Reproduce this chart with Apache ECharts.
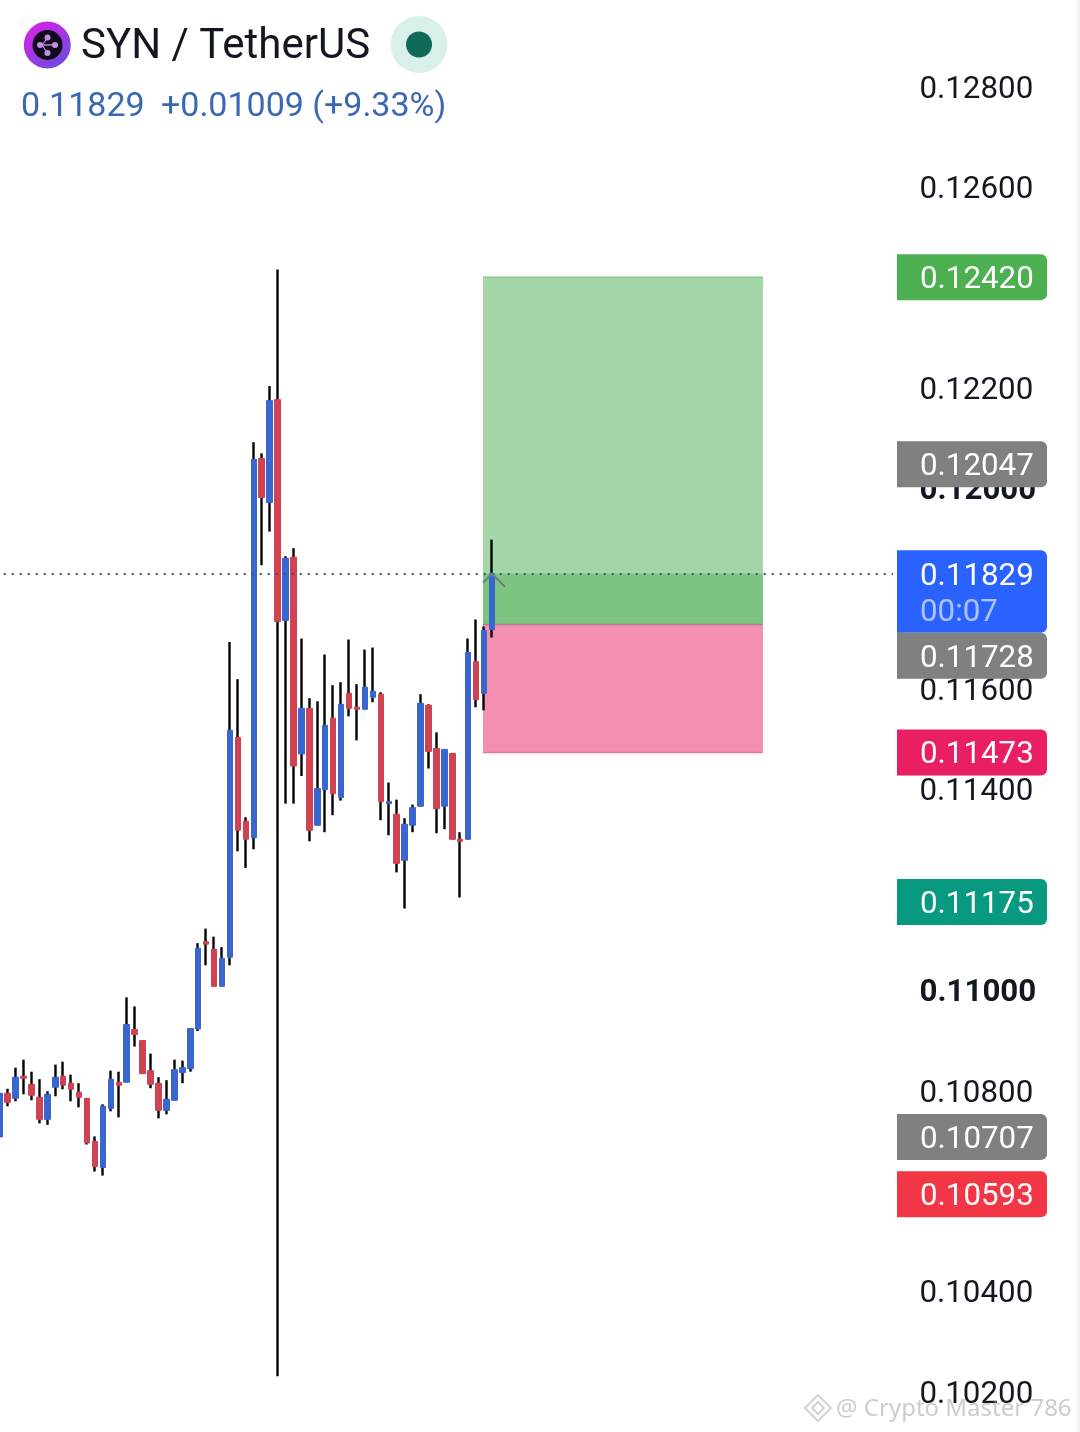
<!DOCTYPE html>
<html>
<head>
<meta charset="utf-8">
<style>html,body{margin:0;padding:0;background:#fff}#c{width:1080px;height:1432px}</style>
<script src="https://cdn.jsdelivr.net/npm/echarts@6/dist/echarts.min.js"></script>
</head>
<body>
<div id="c"></div>
<script>
const opens = [
 .10707,.10794,.10784,.10828,.10812,.10786,.10742,.10806,.10828,.10814,
 .10796,.10784,.10698,.10646,.10764,.10816,.10816,.10921,.10899,.10839,
 .10814,.10760,.10780,.10835,.10843,.10922,.11096,.11081,.11007,.11065,
 .11503,.11336,.11303,.12059,.11971,.12176,.11736,.11862,.11470,.11561,
 .11328,.11399,.11541,.11383,.11591,.11563,.11559,.11583,.11589,.11371,
 .11350,.11258,.11328,.11366,.11567,.11481,.11366,.11471,.11300,.11300,
 .11654,.11591,.11718];
const closes = [
 .10794,.10776,.10826,.10824,.10790,.10742,.10792,.10826,.10810,.10802,
 .10786,.10695,.10648,.10768,.10822,.10810,.10931,.10911,.10833,.10812,
 .10760,.10782,.10841,.10845,.10923,.11083,.11091,.11007,.11063,.11517,
 .11318,.11300,.12057,.11981,.12174,.11734,.11860,.11446,.11561,.11318,
 .11401,.11527,.11391,.11569,.11561,.11559,.11603,.11595,.11375,.11375,
 .11252,.11330,.11363,.11571,.11475,.11361,.11479,.11300,.11296,.11672,
 .11578,.11716,.11829];
const lows = [
 .10707,.10768,.10778,.10792,.10780,.10734,.10731,.10788,.10802,.10778,
 .10766,.10692,.10638,.10630,.10758,.10746,.10816,.10887,.10833,.10804,
 .10744,.10752,.10780,.10814,.10837,.10918,.11049,.11007,.11007,.11049,
 .11276,.11243,.11280,.11846,.11913,.10230,.11371,.11371,.11426,.11296,
 .11328,.11314,.11348,.11377,.11545,.11497,.11559,.11573,.11338,.11308,
 .11234,.11162,.11314,.11365,.11441,.11312,.11320,.11300,.11184,.11300,
 .11563,.11557,.11702];
const highs = [
 .10794,.10803,.10845,.10861,.10837,.10822,.10798,.10851,.10857,.10831,
 .10814,.10784,.10708,.10772,.10839,.10837,.10985,.10967,.10899,.10873,
 .10826,.10820,.10861,.10859,.10923,.11093,.11122,.11106,.11085,.11693,
 .11619,.11344,.12091,.12069,.12203,.12435,.11864,.11880,.11700,.11581,
 .11575,.11668,.11607,.11613,.11698,.11609,.11678,.11682,.11593,.11413,
 .11379,.11342,.11369,.11589,.11569,.11513,.11479,.11471,.11314,.11700,
 .11738,.11724,.11897];

const lastPrice = 0.11829;
const takeProfit = 0.1242;
const entryPrice = 0.11728;
const stopLoss = 0.11473;
const countdown = '00:07';
const boldTicks = ['0.11000', '0.12000'];
const hiddenTicks = ['0.11200'];

const tagValues = [0.1242, 0.12047, 0.11829, 0.11728, 0.11473, 0.11175, 0.10707, 0.10593];
const tagColors = ['#4caf50', '#808080', '#2962ff', '#808080', '#e91e63', '#089981', '#808080', '#f23645'];

const boxTops    = [takeProfit, lastPrice, entryPrice];
const boxBottoms = [entryPrice, entryPrice, stopLoss];
const boxColors  = ['#a5d6a7', '#7cc47f', '#f48fb1'];
const boxStart = 61, boxEnd = 96;
const edgePrices = [takeProfit, entryPrice, stopLoss];
const edgeColors = ['#8cc98f', '#a87f8a', '#de7c9c'];

const slotCount = 113;
const slots = Array.from({length: slotCount}, (_, i) => String(i));

const FONT = 'Roboto';
const BLUE = '#3a66cf', RED = '#cf4353';

const chart = echarts.init(document.getElementById('c'), null, {renderer: 'canvas'});

let tagBottom = -Infinity;
function renderTag(params, api) {
  if (params.dataIndex === 0) tagBottom = -Infinity;
  const raw = api.coord([0, api.value(1)])[1];
  const isLast = api.value(1) === lastPrice;
  const up = isLast ? 23.5 : 23, down = isLast ? 59 : 23;
  const y = Math.max(raw, tagBottom + up);
  tagBottom = y + down;
  const children = [
    {type: 'rect', shape: {x: 897, y: y - up, width: 150, height: up + down, r: [0, 6, 6, 0]},
     style: {fill: tagColors[params.dataIndex]}},
    {type: 'text', style: {x: 920, y: y + 3, text: api.value(1).toFixed(5), fill: '#fff',
      font: '31.3px ' + FONT, verticalAlign: 'middle'}}
  ];
  if (isLast) children.push({type: 'text', style: {x: 920, y: y + 39.5, text: countdown,
      fill: 'rgba(255,255,255,0.62)', font: '31.3px ' + FONT, verticalAlign: 'middle'}});
  return {type: 'group', children};
}

function renderBox(params, api) {
  const band = api.size([1, 0])[0];
  const a = api.coord([boxStart, api.value(0)]);
  const b = api.coord([boxEnd, api.value(1)]);
  const x0 = a[0] - band * 0.13, x1 = b[0] + band * 0.13;
  return {type: 'rect', shape: {x: x0, y: a[1], width: x1 - x0, height: b[1] - a[1]},
    style: {fill: boxColors[params.dataIndex]}};
}

function renderEdge(params, api) {
  const band = api.size([1, 0])[0];
  const a = api.coord([boxStart, api.value(0)]);
  const b = api.coord([boxEnd, api.value(0)]);
  return {type: 'line', shape: {x1: a[0] - band * 0.13, y1: a[1], x2: b[0] + band * 0.13, y2: a[1]},
    style: {stroke: edgeColors[params.dataIndex], lineWidth: 1.5}};
}

function renderChevron(params, api) {
  const p = api.coord([api.value(0), api.value(1)]);
  return {type: 'polyline', shape: {points: [[p[0] - 9, p[1] + 9], [p[0], p[1]], [p[0] + 13, p[1] + 13]]},
    style: {stroke: '#6c7f86', fill: 'none', lineWidth: 2}};
}

chart.setOption({
  animation: false,
  backgroundColor: '#ffffff',
  textStyle: {fontFamily: FONT},
  grid: {left: -4.27, top: 86.4, width: 897.2, height: 1305, containLabel: false, outerBoundsMode: 'none'},
  xAxis: {type: 'category', data: slots, show: false, boundaryGap: true},
  yAxis: {
    type: 'value', position: 'right', min: 0.102, max: 0.128, interval: 0.002, scale: true,
    axisLine: {show: false}, axisTick: {show: false}, splitLine: {show: false},
    axisLabel: {
      margin: 26.5, color: '#131722', fontSize: 31.3, fontFamily: FONT, align: 'left',
      padding: [7, 0, 0, 0],
      formatter: v => {
        const s = v.toFixed(5);
        if (hiddenTicks.includes(s)) return '';
        return boldTicks.includes(s) ? '{b|' + s + '}' : s;
      },
      rich: {b: {fontWeight: 'bold', fontSize: 31.3, fontFamily: FONT, color: '#131722'}}
    }
  },
  series: [
    {
      type: 'custom', z: 1, silent: true, renderItem: renderBox,
      encode: {y: [0, 1]},
      data: boxTops.map((t, i) => [t, boxBottoms[i]])
    },
    {
      type: 'custom', z: 1.5, silent: true, renderItem: renderEdge,
      encode: {y: 0},
      data: edgePrices.map(v => [v])
    },
    {
      name: 'wicks', type: 'candlestick', z: 3, barWidth: 1, silent: true,
      itemStyle: {color: '#000', color0: '#000', borderColor: '#000', borderColor0: '#000', borderWidth: 2.4},
      data: opens.map((o, i) => [o, closes[i], lows[i], highs[i]]),
      markLine: {
        silent: true, symbol: 'none', label: {show: false}, animation: false, precision: 5,
        lineStyle: {color: '#35586c', type: [2, 6], width: 2},
        data: [{yAxis: lastPrice}]
      }
    },
    {
      name: 'bodies', type: 'candlestick', z: 4, barWidth: 6, silent: true,
      itemStyle: {color: BLUE, color0: RED, borderColor: BLUE, borderColor0: RED, borderWidth: 1},
      data: opens.map((o, i) => [o, closes[i], Math.min(o, closes[i]), Math.max(o, closes[i])])
    },
    {
      type: 'custom', z: 6, silent: true, renderItem: renderChevron,
      encode: {x: 0, y: 1}, data: [[opens.length - 1, lastPrice]]
    },
    {
      type: 'custom', z: 8, silent: true, renderItem: renderTag,
      encode: {x: 0, y: 1}, data: tagValues.map(v => [0, v])
    }
  ],
  graphic: {elements: [
    {type: 'circle', z: 20, shape: {cx: 47.3, cy: 45, r: 23.5},
     style: {fill: new echarts.graphic.LinearGradient(0, 0, 0.7, 1, [{offset: 0, color: '#e21ee8'}, {offset: 1, color: '#6f4be0'}])}},
    {type: 'circle', z: 21, shape: {cx: 47.5, cy: 45, r: 15}, style: {fill: '#120a1c'}},
    {type: 'polyline', z: 22, shape: {points: [[40, 45], [55, 45]]}, style: {stroke: '#b586d6', lineWidth: 1.5, fill: 'none'}},
    {type: 'polyline', z: 22, shape: {points: [[47.5, 38], [42, 45], [47.5, 53]]}, style: {stroke: '#b586d6', lineWidth: 1.2, fill: 'none'}},
    {type: 'circle', z: 23, shape: {cx: 40, cy: 45, r: 3}, style: {fill: '#c08fe0'}},
    {type: 'circle', z: 23, shape: {cx: 55, cy: 45, r: 3}, style: {fill: '#c08fe0'}},
    {type: 'circle', z: 23, shape: {cx: 47.5, cy: 37.5, r: 3}, style: {fill: '#c08fe0'}},
    {type: 'circle', z: 23, shape: {cx: 47.5, cy: 53, r: 3}, style: {fill: '#c08fe0'}},
    {type: 'text', z: 20, style: {x: 81, y: 47, text: 'SYN / TetherUS', fill: '#131722', font: '42px ' + FONT, verticalAlign: 'middle'}},
    {type: 'circle', z: 20, shape: {cx: 419, cy: 44.5, r: 28.5}, style: {fill: '#d9efea'}},
    {type: 'circle', z: 21, shape: {cx: 419, cy: 44.5, r: 13}, style: {fill: '#0f6b57'}},
    {type: 'text', z: 20, style: {x: 21, y: 107, text: '0.11829', fill: '#3a68b4', font: '34px ' + FONT, verticalAlign: 'middle'}},
    {type: 'text', z: 20, style: {x: 161, y: 107, text: '+0.01009 (+9.33%)', fill: '#3a68b4', font: '34px ' + FONT, verticalAlign: 'middle'}},
    {type: 'rect', z: 20, shape: {x: 1077, y: 0, width: 3, height: 1432}, style: {fill: '#f4f4f4'}},
    {type: 'polygon', z: 30, shape: {points: [[818, 1395], [831, 1408], [818, 1421], [805, 1408]]},
     style: {fill: 'none', stroke: 'rgba(180,180,180,0.6)', lineWidth: 2}},
    {type: 'polygon', z: 30, shape: {points: [[818, 1402], [824, 1408], [818, 1414], [812, 1408]]},
     style: {fill: 'none', stroke: 'rgba(180,180,180,0.6)', lineWidth: 2}},
    {type: 'text', z: 30, style: {x: 836, y: 1409, text: '@ Crypto Master 786', fill: 'rgba(170,170,170,0.6)',
      font: '24px "Noto Sans"', verticalAlign: 'middle'}}
  ]}
});
</script>
</body>
</html>
